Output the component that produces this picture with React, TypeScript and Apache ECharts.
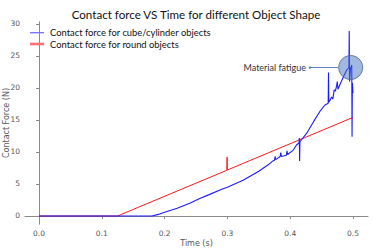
import React, { useEffect, useRef } from "react";
import * as echarts from "echarts";

const blueT = [0, 0.18, 0.19, 0.2, 0.22, 0.24, 0.256, 0.27, 0.291, 0.3, 0.325, 0.35, 0.365, 0.371, 0.375, 0.376, 0.377, 0.384, 0.385, 0.386, 0.394, 0.395, 0.396, 0.405, 0.41, 0.414, 0.4145, 0.415, 0.4155, 0.426, 0.437, 0.447, 0.455, 0.4605, 0.461, 0.4615, 0.463, 0.466, 0.468, 0.47, 0.472, 0.474, 0.475, 0.476, 0.48, 0.485, 0.49, 0.4935, 0.494, 0.4945, 0.496, 0.498, 0.4985, 0.499, 0.5];
const blueV = [0, 0, 0.25, 0.6, 1.2, 2.0, 2.75, 3.3, 4.17, 4.5, 5.6, 7.0, 8.0, 8.5, 8.7, 9.3, 8.8, 9.3, 9.9, 9.3, 9.5, 10.2, 9.6, 10.3, 11.1, 11.4, 12.2, 8.6, 11.6, 12.9, 14.7, 16.3, 17.3, 17.6, 22.4, 17.8, 18.0, 18.6, 18.3, 19.7, 19.5, 20.4, 21.0, 19.8, 20.7, 21.8, 22.8, 23.2, 28.9, 21.0, 23.0, 23.6, 12.4, 20.8, 19.2];

const redT = [0, 0.125, 0.299, 0.2995, 0.3, 0.5];
const redV = [0, 0, 7.14, 9.2, 7.19, 15.4];

const xTicks = [0, 0.1, 0.2, 0.3, 0.4, 0.5];
const yTicks = [0, 5, 10, 15, 20, 25, 30];

const blueName = "Contact force for cube/cylinder objects";
const redName = "Contact force for round objects";
const fatigueCenter = [0.4963, 23.2];
const arrowStart = [0.4315, 23.2];
const arrowEnd = [0.4761, 23.2];

const X_MIN = -0.0223;
const X_MAX = 0.5239;
const Y_MIN = -1.25;
const Y_MAX = 30.31;

export default function App() {
  const ref = useRef<HTMLDivElement>(null);
  useEffect(() => {
    if (!ref.current) return;
    const chart = echarts.init(ref.current, null, { renderer: "svg" });
    const spine = "#8a8a8a";
    const tickFont = "DejaVu Sans";
    const mainFont = "Lato";
    chart.setOption({
      animation: false,
      backgroundColor: "#ffffff",
      title: {
        text: "Contact force VS Time for different Object Shape",
        left: 196,
        textAlign: "center",
        top: 8,
        padding: 0,
        textStyle: { fontFamily: mainFont, fontSize: 11.6, fontWeight: "normal", color: "#111", lineHeight: 12 },
      },
      legend: [
        {
          data: [blueName],
          left: 30,
          top: 28.2,
          padding: 0,
          icon: "rect",
          itemWidth: 14,
          itemHeight: 1.3,
          itemStyle: { color: "#6f6fff" },
          textStyle: { fontFamily: mainFont, fontSize: 9.4, color: "#111", lineHeight: 9, padding: [0, 0, 0, 1] },
        },
        {
          data: [redName],
          left: 30,
          top: 39.5,
          padding: 0,
          icon: "rect",
          itemWidth: 14,
          itemHeight: 2.6,
          itemStyle: { color: "#ff6f6f" },
          textStyle: { fontFamily: mainFont, fontSize: 9.4, color: "#111", lineHeight: 9, padding: [0, 0, 0, 1] },
        },
      ],
      grid: { left: 25, right: 6, top: 22, bottom: 25, containLabel: false, outerBoundsMode: "none" },
      xAxis: [
        {
          type: "value",
          position: "bottom",
          min: X_MIN,
          max: X_MAX,
          axisLine: { show: false },
          axisTick: { show: true, customValues: xTicks, length: 3, lineStyle: { color: spine } },
          axisLabel: {
            customValues: xTicks,
            formatter: (v: number) => v.toFixed(1),
            fontSize: 7.5,
            color: "#555",
            margin: 5,
            fontFamily: tickFont,
          },
          splitLine: { show: false },
          name: "Time (s)",
          nameLocation: "middle",
          nameGap: 15,
          nameMoveOverlap: false,
          nameTextStyle: { fontFamily: tickFont, fontSize: 8, color: "#555" },
        },
        {
          type: "value",
          position: "top",
          min: X_MIN,
          max: X_MAX,
          axisLine: { show: true, lineStyle: { color: spine, width: 1 } },
          axisTick: { show: false },
          axisLabel: { show: false },
          splitLine: { show: false },
        },
      ],
      yAxis: [
        {
          type: "value",
          position: "left",
          min: Y_MIN,
          max: Y_MAX,
          axisLine: { show: true, lineStyle: { color: spine, width: 1 } },
          axisTick: { show: true, customValues: yTicks, length: 3, lineStyle: { color: spine } },
          axisLabel: {
            customValues: yTicks,
            fontSize: 7.5,
            color: "#555",
            margin: 5,
            fontFamily: tickFont,
          },
          splitLine: { show: false },
          name: "Contact Force (N)",
          nameLocation: "middle",
          nameGap: 15,
          nameRotate: 90,
          nameMoveOverlap: false,
          nameTextStyle: { fontFamily: tickFont, fontSize: 8, color: "#555" },
        },
        {
          type: "value",
          position: "right",
          min: Y_MIN,
          max: Y_MAX,
          axisLine: { show: true, lineStyle: { color: spine, width: 1 } },
          axisTick: { show: false },
          axisLabel: { show: false },
          splitLine: { show: false },
        },
      ],
      series: [
        {
          name: redName,
          type: "line",
          xAxisIndex: 0,
          yAxisIndex: 0,
          showSymbol: false,
          data: redT.map((t, i) => [t, redV[i]]),
          lineStyle: { color: "#ff1a1a", width: 1 },
          itemStyle: { color: "#ff6f6f" },
          z: 2,
        },
        {
          name: blueName,
          type: "line",
          xAxisIndex: 0,
          yAxisIndex: 0,
          showSymbol: false,
          data: blueT.map((t, i) => [t, blueV[i]]),
          lineStyle: { color: "#1a1aff", width: 1.1 },
          itemStyle: { color: "#6f6fff" },
          z: 3,
          markPoint: {
            silent: true,
            symbol: "circle",
            symbolSize: 24,
            itemStyle: { color: "rgba(68,114,196,0.5)", borderColor: "#4a5f8c", borderWidth: 0.8 },
            label: { show: false },
            data: [{ coord: fatigueCenter }],
          },
          markLine: {
            silent: true,
            symbol: ["circle", "none"],
            symbolSize: 2.5,
            lineStyle: { color: "#5b84c6", width: 1, type: "solid" },
            label: {
              show: true,
              position: "start",
              formatter: "Material fatigue",
              color: "#333",
              fontSize: 9,
              fontFamily: mainFont,
              distance: 4,
            },
            data: [[{ coord: arrowStart }, { coord: arrowEnd }]],
          },
        },
      ],
    });
    return () => chart.dispose();
  }, []);
  return <div ref={ref} style={{ width: 374, height: 249, position: "absolute", left: 0, top: 0 }} />;
}
